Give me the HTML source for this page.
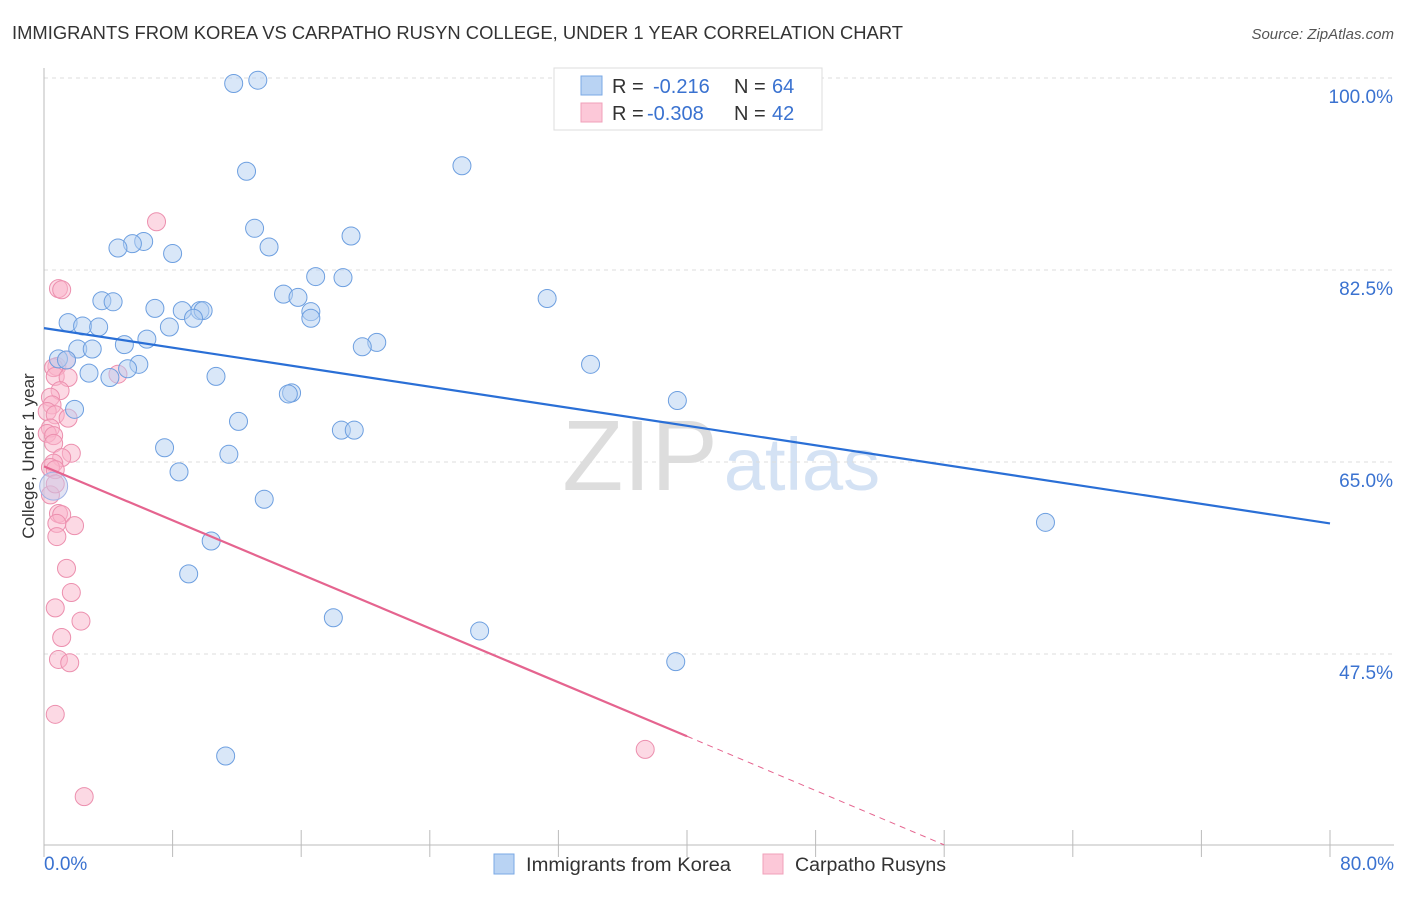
<!DOCTYPE html>
<html><head><meta charset="utf-8"><style>
body{margin:0;background:#fff;font-family:"Liberation Sans",sans-serif;}
svg text{font-family:"Liberation Sans",sans-serif;}
</style></head><body>
<svg id="chart" width="1406" height="892" xmlns="http://www.w3.org/2000/svg">
<text x="12" y="39" font-size="18" fill="#333" textLength="891" lengthAdjust="spacingAndGlyphs">IMMIGRANTS FROM KOREA VS CARPATHO RUSYN COLLEGE, UNDER 1 YEAR CORRELATION CHART</text>
<text x="1394" y="39" font-size="15" fill="#555" text-anchor="end" font-style="italic">Source: ZipAtlas.com</text>
<text x="640" y="490" font-size="100" fill="#ddd" text-anchor="middle" font-family="Liberation Serif">ZIP</text>
<text x="802" y="490" font-size="74" fill="#d4e2f4" text-anchor="middle">atlas</text>
<g id="grid"></g><g id="axes"></g><g id="marks"></g>
<text x="34" y="456" font-size="17" fill="#333" text-anchor="middle" transform="rotate(-90 34 456)">College, Under 1 year</text>
<g>
<rect x="554" y="68" width="268" height="62" fill="#fff" stroke="#ddd"/>
<rect x="581" y="76" width="21" height="19" fill="#b9d3f3" stroke="#7aa8e6"/>
<rect x="581" y="103" width="21" height="19" fill="#fcc8d8" stroke="#f0a0ba"/>
<text x="612" y="93" font-size="20" fill="#333">R = </text><text x="653" y="93" font-size="20" fill="#3a72d0">-0.216</text>
<text x="734" y="93" font-size="20" fill="#333">N = </text><text x="772" y="93" font-size="20" fill="#3a72d0">64</text>
<text x="612" y="120" font-size="20" fill="#333">R = </text><text x="647" y="120" font-size="20" fill="#3a72d0">-0.308</text>
<text x="734" y="120" font-size="20" fill="#333">N = </text><text x="772" y="120" font-size="20" fill="#3a72d0">42</text>
</g>
<g>
<rect x="494" y="854" width="20" height="20" fill="#b9d3f3" stroke="#7aa8e6"/>
<text x="526" y="871" font-size="19" fill="#333" textLength="205" lengthAdjust="spacingAndGlyphs">Immigrants from Korea</text>
<rect x="763" y="854" width="20" height="20" fill="#fcc8d8" stroke="#f0a0ba"/>
<text x="795" y="871" font-size="19" fill="#333" textLength="151" lengthAdjust="spacingAndGlyphs">Carpatho Rusyns</text>
</g>
</svg>
<script>
const blueX=[11.8,13.3,12.6,26.0,13.1,19.1,14.0,6.2,5.5,4.6,8.0,16.9,18.6,14.9,15.8,3.6,4.3,6.9,8.6,9.7,9.9,9.3,16.6,16.6,31.3,1.5,2.4,3.4,7.8,6.4,5.0,2.1,3.0,20.7,19.8,0.9,1.4,5.9,5.2,34.0,2.8,4.1,10.7,15.4,15.2,39.4,1.9,12.1,18.5,19.3,7.5,11.5,8.4,13.7,62.3,10.4,9.0,18.0,27.1,39.3,11.3];
const blueY=[99.5,99.8,91.5,92.0,86.3,85.6,84.6,85.1,84.9,84.5,84.0,81.9,81.8,80.3,80.0,79.7,79.6,79.0,78.8,78.8,78.8,78.1,78.7,78.1,79.9,77.7,77.4,77.3,77.3,76.2,75.7,75.3,75.3,75.9,75.5,74.4,74.3,73.9,73.5,73.9,73.1,72.7,72.8,71.3,71.2,70.6,69.8,68.7,67.9,67.9,66.3,65.7,64.1,61.6,59.5,57.8,54.8,50.8,49.6,46.8,38.2];
const pinkX=[7.0,0.9,1.1,0.8,1.4,0.6,4.6,0.7,1.5,1.0,0.4,0.5,0.2,0.7,1.5,0.4,0.2,0.6,0.6,1.7,1.1,0.6,0.4,0.7,0.4,0.9,1.1,0.8,1.9,0.8,1.4,1.7,0.7,2.3,1.1,0.9,1.6,0.7,37.4,2.5,0.7];
const pinkY=[86.9,80.8,80.7,73.7,74.3,73.6,73.0,72.8,72.7,71.5,70.9,70.2,69.6,69.3,69.0,68.1,67.6,67.4,66.7,65.8,65.4,64.9,64.5,64.3,62.0,60.3,60.2,59.4,59.2,58.2,55.3,53.1,51.7,50.5,49.0,47.0,46.7,42.0,38.8,34.5,63.0];
const bigX=[0.6], bigY=[62.8];
const blueTrend=[[0,77.2],[80,59.4]];
const pinkTrend=[[0,64.6],[40.0,40.0]];
const pinkDash=[[40.0,40.0],[56.0,30.1]];
const yTicks=[100,82.5,65,47.5];
const yTickLabels=["100.0%","82.5%","65.0%","47.5%"];
const xTicks=[0,8,16,24,32,40,48,56,64,72,80];
const xEndLabels=["0.0%","80.0%"];
const NS="http://www.w3.org/2000/svg";
const sx=v=>44+v*1286/80, sy=v=>78+(100-v)*10.971;
function mk(tag,attrs,parent){const e=document.createElementNS(NS,tag);for(const k in attrs)e.setAttribute(k,attrs[k]);document.getElementById(parent).appendChild(e);return e;}
yTicks.forEach((t,i)=>{
 const l=mk('line',{x1:44,x2:1394,y1:sy(t),y2:sy(t),stroke:'#ddd','stroke-dasharray':'4,4'},'grid');
 
 
 const tx=mk('text',{x:1393,y:sy(t)+25,'font-size':19,fill:'#3a72d0','text-anchor':'end'},'grid');
 tx.textContent=yTickLabels[i];
 
 
});
const ya=mk('line',{x1:44,x2:44,y1:68,y2:845,stroke:'#bbb'},'axes');


const xa=mk('line',{x1:44,x2:1394,y1:845,y2:845,stroke:'#bbb'},'axes');


xTicks.forEach(t=>{
 const l=mk('line',{x1:sx(t),x2:sx(t),y1:830,y2:857,stroke:'#bbb'},'axes');
 
 
});
[[0,'start',44],[80,'end',1394]].forEach((d,i)=>{
 const tx=mk('text',{x:d[2],y:870,'font-size':19,fill:'#3a72d0','text-anchor':d[1]},'axes');
 tx.textContent=xEndLabels[i];
 
 
});
function dots(X,Y,fill,stroke,r,name){X.forEach((x,i)=>{
 const c=mk('circle',{cx:sx(x),cy:sy(Y[i]),r:r,fill:fill,stroke:stroke,'stroke-width':1,'fill-opacity':0.5},'marks');
 
 
});}
dots(pinkX,pinkY,'#f9b4c9','#ec8fae',9,'rusyn-point');
dots(blueX,blueY,'#b3cff2','#6d9fe0',9,'korea-point');
dots(bigX,bigY,'#c8c8e8','#9fb3e6',14,'korea-point-large');
function line(p,stroke,w,dash,name){
 const l=mk('line',{x1:sx(p[0][0]),y1:sy(p[0][1]),x2:sx(p[1][0]),y2:sy(p[1][1]),stroke:stroke,'stroke-width':w},'marks');
 if(dash)l.setAttribute('stroke-dasharray',dash);
 
 
}
line(blueTrend,'#2a6fd6',2.2,null,'korea-trend-line');
line(pinkTrend,'#e5648f',2.2,null,'rusyn-trend-line');
line(pinkDash,'#e5648f',1,'6,5','rusyn-trend-extension');
</script>
</body></html>
